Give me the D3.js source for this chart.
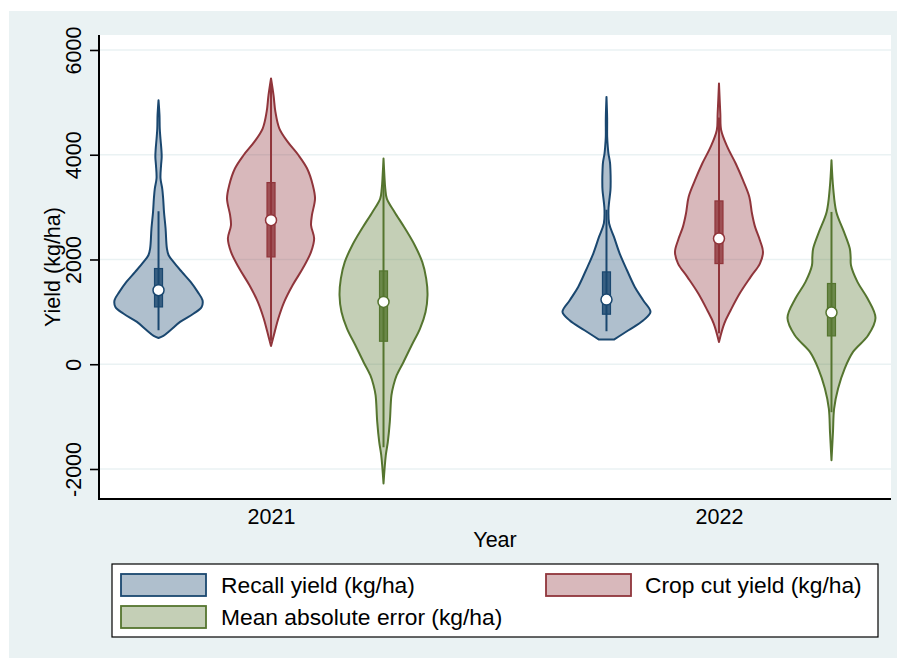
<!DOCTYPE html>
<html>
<head>
<meta charset="utf-8">
<script src="https://cdn.jsdelivr.net/npm/d3@7"></script>
<style>
  html, body { margin: 0; padding: 0; background: #ffffff; }
  svg { display: block; }
  text { font-family: "Liberation Sans", Arial, Helvetica, sans-serif; fill: #000; }
</style>
</head>
<body>
<svg id="chart" width="899" height="659"></svg>
<script>
// ---------------- DATA ----------------
const years = ["2021", "2022"];
const seriesNames = ["Recall yield (kg/ha)", "Crop cut yield (kg/ha)", "Mean absolute error (kg/ha)"];
const seriesKeys = ["recall", "cropcut", "mae"];
const yTicks = [-2000, 0, 2000, 4000, 6000];
const yDomain = [-2573, 6286];

// density profiles: [yield value, relative density (max = 1)]
const recall2021 = [[5041,0],[4754,0.022],[4500,0.028],[4300,0.045],[4100,0.065],[3958,0.072],[3800,0.058],[3551,0.045],[3350,0.085],[3170,0.105],[2902,0.125],[2597,0.16],[2215,0.19],[2081,0.23],[1953,0.34],[1763,0.53],[1572,0.73],[1381,0.89],[1222,1.0],[1094,0.98],[968,0.8],[808,0.49],[649,0.27],[541,0.11],[500,0]];
const cropcut2021 = [[5455,0],[5136,0.057],[4818,0.10],[4500,0.19],[4245,0.38],[3990,0.625],[3736,0.82],[3418,0.95],[3164,1.0],[2845,0.93],[2654,0.91],[2400,0.98],[2144,0.91],[1827,0.72],[1508,0.49],[1190,0.30],[873,0.166],[618,0.084],[350,0]];
const mae2021 = [[3927,0],[3600,0.02],[3354,0.04],[3163,0.075],[2908,0.25],[2590,0.49],[2272,0.71],[1953,0.88],[1636,0.97],[1317,1.0],[999,0.955],[681,0.83],[363,0.64],[44,0.455],[-210,0.30],[-401,0.227],[-592,0.18],[-1101,0.143],[-1483,0.098],[-1737,0.052],[-2278,0]];
const recall2022 = [[5104,0],[4700,0.015],[4340,0.016],[4150,0.03],[4022,0.045],[3850,0.08],[3704,0.09],[3500,0.095],[3322,0.09],[3100,0.06],[2940,0.045],[2686,0.06],[2431,0.17],[2113,0.30],[1795,0.466],[1476,0.643],[1222,0.834],[999,1.0],[840,0.84],[649,0.50],[471,0.17]];
const cropcut2022 = [[5359,0],[4786,0.03],[4468,0.05],[4150,0.19],[3832,0.38],[3513,0.545],[3194,0.69],[2877,0.75],[2622,0.82],[2368,0.93],[2144,1.0],[1922,0.93],[1668,0.72],[1350,0.47],[1031,0.266],[776,0.12],[426,0]];
const mae2022 = [[3895,0],[3354,0.04],[2908,0.11],[2526,0.284],[2208,0.416],[2050,0.435],[1890,0.443],[1572,0.59],[1254,0.82],[885,1.0],[554,0.834],[235,0.49],[-83,0.30],[-465,0.15],[-847,0.06],[-1292,0.034],[-1833,0]];

// box statistics: [lower whisker, q1, median, q3, upper whisker]
const boxRecall2021 = [649, 1094, 1413, 1827, 2921];
const boxCropcut2021 = [450, 2049, 2750, 3468, 5350];
const boxMae2021 = [-1585, 439, 1190, 1782, 3736];
const boxRecall2022 = [630, 955, 1235, 1763, 2950];
const boxCropcut2022 = [590, 1922, 2400, 3118, 4710];
const boxMae2022 = [-916, 541, 987, 1541, 2908];

const violins = [
  { year: "2021", key: "recall",  dens: recall2021,  box: boxRecall2021 },
  { year: "2021", key: "cropcut", dens: cropcut2021, box: boxCropcut2021 },
  { year: "2021", key: "mae",     dens: mae2021,     box: boxMae2021 },
  { year: "2022", key: "recall",  dens: recall2022,  box: boxRecall2022 },
  { year: "2022", key: "cropcut", dens: cropcut2022, box: boxCropcut2022 },
  { year: "2022", key: "mae",     dens: mae2022,     box: boxMae2022 }
];

// ---------------- STYLE ----------------
const colors = { recall: "#1a476f", cropcut: "#90353b", mae: "#55752f" };
const fillOpacity = 0.35;
const bgColor = "#eaf2f3";

// ---------------- LAYOUT ----------------
const plot = { left: 99, right: 891, top: 35, bottom: 499 };
const svg = d3.select("#chart");

// outer graph region
svg.append("rect").attr("x", 9).attr("y", 11).attr("width", 888).attr("height", 647).attr("fill", bgColor);
// plot region
svg.append("rect").attr("x", plot.left).attr("y", plot.top)
  .attr("width", plot.right - plot.left).attr("height", plot.bottom - plot.top).attr("fill", "#fff");

const y = d3.scaleLinear().domain(yDomain).range([plot.bottom, plot.top]);
const xYear = d3.scalePoint().domain(years).range([plot.left, plot.right]).padding(0.384);
const xSeries = d3.scalePoint().domain(seriesKeys).range([-112.5, 112.5]);
const wScale = d3.scaleLinear().domain([0, 1]).range([0, 44]);

// gridlines
svg.append("g").selectAll("line").data(yTicks).join("line")
  .attr("x1", plot.left).attr("x2", plot.right)
  .attr("y1", d => y(d)).attr("y2", d => y(d))
  .attr("stroke", bgColor).attr("stroke-width", 1.6);

// y axis
const yAxis = d3.axisLeft(y).tickValues(yTicks).tickSize(9).tickSizeOuter(0).tickFormat(d => String(d));
const gy = svg.append("g").attr("transform", `translate(${plot.left},0)`).call(yAxis);
gy.select(".domain").attr("stroke", "#000").attr("stroke-width", 2)
  .attr("d", `M0,${plot.top}V${plot.bottom + 1}`);
gy.selectAll(".tick line").attr("stroke", "#000").attr("stroke-width", 1.6);
gy.selectAll(".tick text")
  .attr("x", null).attr("dy", null)
  .attr("transform", "translate(-18,0) rotate(-90)")
  .attr("text-anchor", "middle")
  .attr("font-size", 21.5)
  .attr("fill", "#000");

// x axis (category labels, no ticks)
const xAxis = d3.axisBottom(xYear).tickSize(0).tickSizeOuter(0);
const gx = svg.append("g").attr("transform", `translate(0,${plot.bottom})`).call(xAxis);
gx.select(".domain").attr("stroke", "#000").attr("stroke-width", 2)
  .attr("d", `M${plot.left - 1},0H${plot.right}`);
gx.selectAll(".tick text").attr("dy", null).attr("y", 25).attr("font-size", 21.5).attr("fill", "#000");

// axis titles
svg.append("text").attr("x", 495).attr("y", 547).attr("text-anchor", "middle").attr("font-size", 21.5).text("Year");
svg.append("text").attr("transform", `translate(60,${(plot.top + plot.bottom) / 2}) rotate(-90)`)
  .attr("text-anchor", "middle").attr("font-size", 21.5).text("Yield (kg/ha)");

// violins
const gv = svg.append("g");
violins.forEach(v => {
  const cx = xYear(v.year) + xSeries(v.key);
  const col = colors[v.key];
  const area = d3.area()
    .y(d => y(d[0]))
    .x0(d => cx - wScale(d[1]))
    .x1(d => cx + wScale(d[1]))
    .curve(d3.curveCatmullRom.alpha(0.5));
  const g = gv.append("g");
  g.append("path").datum(v.dens).attr("d", area)
    .attr("fill", col).attr("fill-opacity", fillOpacity)
    .attr("stroke", col).attr("stroke-width", 2).attr("stroke-linejoin", "round");
  // whisker
  g.append("line").attr("x1", cx).attr("x2", cx)
    .attr("y1", y(v.box[0])).attr("y2", y(v.box[4]))
    .attr("stroke", col).attr("stroke-width", 2);
  // IQR box
  g.append("rect").attr("x", cx - 4).attr("width", 8)
    .attr("y", y(v.box[3])).attr("height", y(v.box[1]) - y(v.box[3]))
    .attr("fill", col).attr("fill-opacity", 0.8)
    .attr("stroke", col).attr("stroke-width", 1.2);
  // median
  g.append("circle").attr("cx", cx).attr("cy", y(v.box[2])).attr("r", 5.5)
    .attr("fill", "#fff").attr("stroke", col).attr("stroke-width", 1.5);
});

// legend
const lg = svg.append("g");
lg.append("rect").attr("x", 112).attr("y", 564).attr("width", 766).attr("height", 73)
  .attr("fill", "#fff").attr("stroke", "#000").attr("stroke-width", 1.2);
const legendPos = [
  { key: "recall",  kx: 121, ky: 574, tx: 221, ty: 593 },
  { key: "cropcut", kx: 546, ky: 574, tx: 645, ty: 593 },
  { key: "mae",     kx: 121, ky: 606, tx: 221, ty: 625 }
];
legendPos.forEach(p => {
  const col = colors[p.key];
  lg.append("rect").attr("x", p.kx).attr("y", p.ky).attr("width", 85).attr("height", 22)
    .attr("fill", col).attr("fill-opacity", fillOpacity)
    .attr("stroke", col).attr("stroke-width", 1.8);
  lg.append("text").attr("x", p.tx).attr("y", p.ty).attr("font-size", 22.8)
    .text(seriesNames[seriesKeys.indexOf(p.key)]);
});
</script>
</body>
</html>
